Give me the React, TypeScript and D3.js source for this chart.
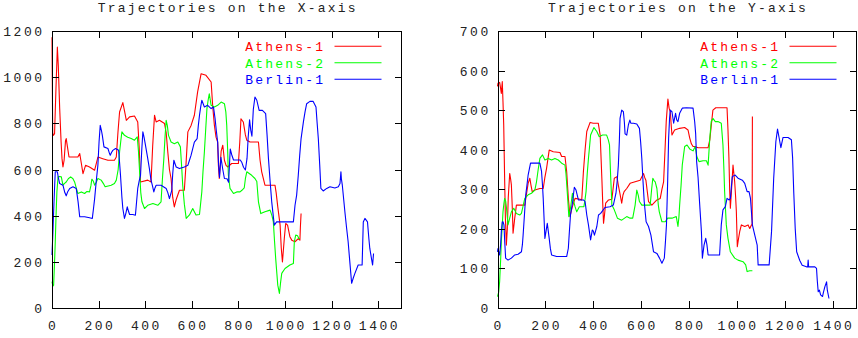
import React from "react";
import * as d3 from "d3";

// Athens-1 / Athens-2 / Berlin-1 trajectories, [time, coordinate]
const xAthens1: [number, number][] = [
  [0, 1173], [3, 760], [6, 748], [11, 755], [17, 950], [23, 1130], [27, 1050], [33, 864], [39, 720], [43, 647],
  [47, 611], [52, 640], [58, 725], [61, 734], [66, 700], [73, 654], [90, 654], [111, 654], [119, 669], [126, 626],
  [133, 582], [144, 618], [161, 611], [183, 597], [197, 654], [218, 647], [240, 640], [268, 640], [276, 654], [283, 760],
  [290, 849], [304, 890], [312, 850], [319, 813], [333, 828], [354, 832], [368, 806], [374, 700], [380, 546], [411, 554],
  [425, 546], [432, 700], [440, 835], [447, 806], [461, 813], [483, 799], [490, 760], [497, 676], [504, 600], [511, 561],
  [518, 480], [525, 438], [533, 470], [547, 510], [568, 510], [575, 620], [583, 763], [597, 791], [611, 835], [625, 936],
  [640, 1015], [661, 1008], [683, 979], [690, 870], [697, 791], [704, 740], [711, 719], [714, 620], [718, 561], [726, 680],
  [733, 705], [740, 640], [747, 618], [754, 611], [771, 626], [800, 626], [806, 720], [811, 820], [821, 806], [830, 750],
  [836, 727], [850, 719], [886, 719], [893, 640], [900, 590], [914, 532], [957, 532], [962, 500], [969, 438], [979, 359],
  [984, 260], [989, 200], [993, 250], [997, 301], [1003, 366], [1011, 359], [1021, 309], [1029, 294], [1043, 287], [1057, 301],
  [1064, 294], [1066, 350], [1069, 409],
];

const xAthens2: [number, number][] = [
  [0, 114], [4, 95], [7, 99], [11, 200], [14, 287], [18, 420], [21, 503], [26, 568], [33, 570], [40, 568],
  [47, 532], [54, 540], [61, 546], [70, 560], [80, 568], [90, 560], [97, 546], [104, 520], [111, 496], [126, 503],
  [140, 496], [150, 505], [161, 503], [167, 530], [171, 558], [177, 550], [183, 532], [190, 545], [197, 561], [211, 554],
  [220, 540], [228, 525], [254, 532], [268, 539], [276, 554], [284, 600], [290, 676], [296, 730], [300, 763], [311, 748],
  [325, 740], [340, 734], [354, 727], [366, 741], [371, 680], [376, 590], [381, 500], [386, 460], [397, 431], [411, 445],
  [433, 453], [454, 445], [468, 460], [474, 560], [480, 647], [485, 740], [490, 813], [495, 790], [500, 748], [511, 719],
  [525, 712], [540, 719], [551, 698], [556, 620], [561, 532], [568, 450], [576, 388], [590, 403], [604, 431], [618, 403],
  [633, 405], [643, 503], [648, 590], [654, 676], [660, 780], [665, 864], [670, 900], [675, 928], [683, 878], [697, 871],
  [711, 878], [726, 892], [740, 885], [746, 850], [750, 791], [754, 680], [757, 575], [764, 518], [779, 496], [793, 503],
  [807, 503], [815, 510], [825, 520], [830, 560], [836, 590], [857, 575], [871, 561], [879, 548], [886, 460], [896, 409],
  [914, 417], [936, 424], [944, 400], [950, 373], [955, 290], [960, 215], [965, 150], [969, 99], [976, 63], [981, 110],
  [986, 150], [1000, 171], [1021, 186], [1036, 193], [1040, 287], [1046, 316], [1054, 313], [1060, 300], [1064, 301],
];

const xBerlin1: [number, number][] = [
  [0, 229], [4, 330], [7, 417], [11, 520], [14, 590], [23, 590], [28, 560], [33, 539], [47, 532], [55, 500],
  [61, 486], [68, 505], [76, 518], [90, 525], [104, 518], [112, 460], [119, 395], [140, 395], [161, 391], [173, 388],
  [178, 430], [183, 474], [190, 550], [197, 619], [202, 720], [207, 791], [212, 770], [216, 748], [223, 698], [240, 691],
  [245, 675], [250, 662], [256, 675], [261, 683], [273, 691], [286, 683], [290, 630], [294, 575], [300, 480], [304, 431],
  [311, 388], [317, 410], [323, 438], [328, 420], [333, 405], [347, 405], [358, 402], [363, 460], [368, 518], [374, 550],
  [380, 575], [385, 680], [390, 763], [395, 740], [400, 712], [411, 647], [418, 604], [425, 554], [431, 530], [437, 503],
  [442, 520], [447, 532], [468, 532], [490, 518], [497, 500], [504, 474], [514, 510], [518, 580], [523, 640], [528, 625],
  [533, 611], [547, 604], [568, 611], [583, 618], [590, 640], [597, 662], [604, 690], [611, 719], [623, 734], [628, 790],
  [633, 835], [638, 870], [643, 900], [654, 871], [668, 878], [683, 864], [693, 871], [700, 820], [705, 770], [711, 719],
  [715, 620], [719, 566], [725, 653], [733, 600], [740, 561], [751, 560], [758, 545], [765, 689], [771, 665], [779, 641],
  [808, 641], [815, 630], [822, 610], [830, 598], [837, 648], [842, 740], [848, 815], [853, 770], [858, 744], [864, 860],
  [871, 914], [879, 900], [889, 856], [903, 856], [917, 842], [923, 750], [929, 647], [936, 550], [943, 460], [954, 359],
  [964, 373], [979, 373], [1014, 373], [1036, 373], [1043, 445], [1050, 489], [1057, 575], [1063, 660], [1069, 734], [1079, 806],
  [1086, 850], [1093, 885], [1107, 895], [1121, 895], [1133, 871], [1138, 800], [1143, 734], [1149, 620], [1154, 518], [1164, 507],
  [1179, 518], [1193, 525], [1214, 520], [1229, 525], [1236, 539], [1240, 590], [1242, 560], [1246, 532], [1257, 417], [1264, 350],
  [1271, 287], [1279, 190], [1286, 107], [1293, 130], [1300, 150], [1314, 186], [1331, 186], [1336, 373], [1343, 388], [1354, 373],
  [1360, 300], [1364, 258], [1371, 215], [1376, 186], [1380, 236],
];

const yAthens1: [number, number][] = [
  [0, 560], [2, 568], [9, 570], [13, 555], [16, 542], [20, 572], [23, 520], [26, 462], [30, 320], [33, 227],
  [37, 159], [41, 200], [45, 280], [51, 340], [55, 325], [58, 311], [62, 250], [65, 189], [72, 227], [79, 260],
  [100, 260], [114, 260], [128, 315], [135, 328], [140, 310], [145, 294], [156, 298], [177, 302], [191, 302], [198, 330],
  [205, 353], [216, 399], [233, 395], [261, 393], [268, 383], [282, 383], [289, 345], [296, 277], [303, 231], [308, 245],
  [313, 256], [324, 277], [345, 275], [352, 273], [359, 345], [366, 400], [373, 446], [387, 469], [400, 467], [421, 467],
  [429, 437], [436, 328], [440, 260], [443, 214], [447, 235], [452, 265], [464, 273], [478, 275], [488, 328], [499, 332],
  [505, 310], [510, 294], [519, 265], [524, 285], [529, 294], [540, 302], [554, 315], [575, 319], [596, 323], [610, 340],
  [615, 330], [620, 323], [631, 269], [645, 260], [666, 273], [680, 277], [687, 300], [694, 319], [700, 400], [705, 471],
  [712, 528], [717, 505], [722, 496], [726, 460], [729, 437], [740, 450], [761, 454], [782, 456], [796, 450], [803, 430],
  [810, 415], [817, 408], [824, 408], [838, 405], [859, 405], [880, 405], [887, 425], [893, 460], [900, 500], [912, 506],
  [935, 506], [959, 506], [963, 450], [967, 378], [970, 300], [973, 252], [977, 290], [984, 361], [991, 319], [995, 280],
  [998, 243], [1002, 155], [1007, 175], [1012, 193], [1019, 210], [1033, 206], [1047, 210], [1054, 201], [1061, 210], [1064, 210],
  [1065, 484],
];

const yAthens2: [number, number][] = [
  [0, 29], [5, 40], [9, 67], [13, 120], [16, 168], [20, 210], [23, 243], [27, 265], [30, 277], [34, 270],
  [37, 256], [41, 230], [44, 210], [51, 227], [58, 243], [68, 252], [79, 239], [93, 235], [100, 239], [107, 258],
  [114, 277], [128, 286], [142, 290], [156, 298], [163, 319], [170, 350], [177, 378], [188, 387], [198, 374], [212, 378],
  [226, 374], [240, 378], [254, 374], [268, 366], [282, 361], [286, 340], [289, 315], [294, 270], [298, 231], [305, 252],
  [313, 290], [318, 270], [324, 256], [331, 243], [342, 256], [361, 256], [366, 275], [370, 294], [375, 340], [380, 378],
  [385, 410], [389, 437], [403, 456], [415, 446], [425, 433], [439, 437], [456, 437], [463, 425], [468, 412], [473, 330],
  [478, 260], [488, 248], [501, 227], [519, 222], [540, 231], [554, 227], [565, 227], [575, 260], [582, 298], [588, 285],
  [593, 269], [603, 260], [624, 260], [638, 260], [644, 300], [649, 328], [654, 322], [659, 319], [666, 302], [672, 260],
  [676, 243], [687, 218], [701, 218], [711, 227], [729, 227], [747, 231], [754, 206], [758, 230], [761, 260], [767, 310],
  [772, 361], [782, 408], [792, 412], [803, 402], [817, 397], [826, 408], [833, 382], [842, 370], [859, 372], [873, 372],
  [880, 361], [887, 429], [893, 471], [900, 479], [910, 471], [921, 471], [935, 467], [942, 412], [946, 350], [949, 294],
  [956, 210], [963, 176], [973, 142], [991, 126], [1005, 121], [1026, 117], [1037, 109], [1043, 92], [1054, 94], [1065, 94],
];

const yBerlin1: [number, number][] = [
  [0, 142], [2, 150], [6, 140], [9, 134], [13, 160], [16, 193], [20, 218], [23, 218], [27, 210], [30, 170],
  [34, 126], [44, 121], [58, 126], [72, 134], [86, 136], [100, 142], [104, 160], [107, 184], [112, 230], [118, 286],
  [123, 310], [128, 336], [138, 366], [156, 366], [177, 366], [184, 345], [188, 310], [191, 277], [195, 220], [198, 176],
  [203, 195], [208, 214], [212, 195], [216, 176], [221, 150], [226, 134], [247, 130], [268, 130], [289, 130], [296, 151],
  [300, 190], [305, 235], [314, 269], [321, 305], [328, 298], [338, 273], [359, 273], [366, 269], [373, 235], [380, 210],
  [384, 193], [389, 172], [396, 197], [400, 195], [405, 184], [410, 195], [415, 206], [422, 235], [431, 239], [449, 254],
  [470, 256], [484, 260], [495, 290], [500, 320], [505, 361], [509, 420], [512, 479], [519, 500], [526, 496], [530, 470],
  [533, 440], [540, 437], [547, 463], [553, 475], [557, 467], [568, 467], [582, 465], [593, 454], [598, 420], [603, 378],
  [608, 320], [613, 269], [621, 218], [631, 206], [641, 184], [652, 142], [666, 138], [677, 126], [687, 113], [697, 126],
  [702, 170], [706, 210], [711, 320], [715, 429], [719, 480], [722, 500], [729, 496], [736, 467], [744, 492], [749, 475],
  [754, 471], [761, 492], [772, 505], [789, 506], [817, 505], [824, 470], [828, 440], [832, 370], [838, 330], [845, 260],
  [852, 193], [856, 126], [863, 159], [870, 176], [875, 160], [880, 134], [893, 134], [915, 134], [928, 134], [935, 210],
  [942, 248], [952, 256], [959, 277], [968, 273], [973, 277], [981, 332], [993, 336], [1005, 328], [1023, 323], [1033, 315],
  [1043, 294], [1051, 294], [1057, 277], [1065, 210], [1075, 184], [1085, 159], [1089, 109], [1103, 109], [1124, 109], [1135, 109],
  [1145, 193], [1154, 328], [1163, 420], [1170, 452], [1177, 429], [1184, 405], [1193, 431], [1214, 431], [1228, 425], [1233, 380],
  [1238, 290], [1244, 200], [1250, 142], [1263, 120], [1273, 108], [1291, 104], [1296, 104], [1298, 121], [1300, 104], [1326, 104],
  [1333, 100], [1336, 70], [1340, 41], [1345, 45], [1350, 33], [1358, 29], [1362, 40], [1368, 54], [1375, 66], [1378, 45],
  [1385, 24],
];

const seriesNames = ["Athens-1", "Athens-2", "Berlin-1"];
const seriesColors = ["#ff0000", "#00ff00", "#0000ff"];
const xTicks = [0, 200, 400, 600, 800, 1000, 1200, 1400];
const leftYTicks = [0, 200, 400, 600, 800, 1000, 1200];
const rightYTicks = [0, 100, 200, 300, 400, 500, 600, 700];

const FONT = "'Liberation Mono', 'DejaVu Sans Mono', monospace";
const LS = 2.2; // gnuplot's wide courier spacing
const TICK_LS = 2.5;
const TICK_LEN = 7;

type PanelProps = {
  title: string;
  left: number;
  right: number;
  yMax: number;
  yTicks: number[];
  labelGap: number;
  data: [number, number][][];
};

function Panel({ title, left, right, yMax, yTicks, labelGap, data }: PanelProps) {
  const top = 31;
  const bottom = 308;
  const x = d3.scaleLinear().domain([0, 1500]).range([left, right]);
  const y = d3.scaleLinear().domain([0, yMax]).range([bottom, top]);
  const line = d3.line<[number, number]>().x(d => x(d[0])).y(d => y(d[1]));

  return (
    <g>
      <text x={(left + right) / 2 + LS / 2} y={11.5} textAnchor="middle" fontFamily={FONT} fontSize={13}
        letterSpacing={LS} fill="#222">{title}</text>

      {data.map((s, i) => (
        <path key={i} d={line(s) || ""} fill="none" stroke={seriesColors[i]} strokeWidth={1.1}
          strokeLinejoin="round" />
      ))}

      {/* frame + mirrored ticks */}
      <g stroke="#000" strokeWidth={1} shapeRendering="crispEdges">
        <rect x={left + 0.5} y={top + 0.5} width={right - left - 1} height={bottom - top} fill="none" />
        {xTicks.map(t => (
          <g key={"x" + t}>
            <line x1={Math.round(x(t)) + 0.5} x2={Math.round(x(t)) + 0.5} y1={bottom} y2={bottom - TICK_LEN} />
            <line x1={Math.round(x(t)) + 0.5} x2={Math.round(x(t)) + 0.5} y1={top} y2={top + TICK_LEN} />
          </g>
        ))}
        {yTicks.map(t => (
          <g key={"y" + t}>
            <line x1={left} x2={left + TICK_LEN} y1={Math.round(y(t)) + 0.5} y2={Math.round(y(t)) + 0.5} />
            <line x1={right} x2={right - TICK_LEN} y1={Math.round(y(t)) + 0.5} y2={Math.round(y(t)) + 0.5} />
          </g>
        ))}
      </g>

      <g fontFamily={FONT} fontSize={13} letterSpacing={TICK_LS} fill="#222">
        {xTicks.map(t => (
          <text key={"xl" + t} x={x(t) + TICK_LS / 2} y={330} textAnchor="middle">{t}</text>
        ))}
        {yTicks.map(t => (
          <text key={"yl" + t} x={left - labelGap + TICK_LS} y={y(t) + 5} textAnchor="end">{t}</text>
        ))}
      </g>

      {/* key */}
      <g fontFamily={FONT} fontSize={13} letterSpacing={LS}>
        {seriesNames.map((n, i) => {
          const ly = 46.3 + i * 16.5;
          return (
            <g key={n}>
              <text x={right - 79 + LS + 0.5} y={ly + 4.7} textAnchor="end" fill={seriesColors[i]}>{n}</text>
              <line x1={right - 67} x2={right - 20} y1={ly} y2={ly} stroke={seriesColors[i]} strokeWidth={1.1} />
            </g>
          );
        })}
      </g>
    </g>
  );
}

export default function App() {
  return (
    <svg width={858} height={338} style={{ position: "absolute", left: 0, top: 0, background: "#fff" }}>
      <Panel title="Trajectories on the X-axis" left={52} right={401.5} yMax={1200} yTicks={leftYTicks}
        labelGap={10} data={[xAthens1, xAthens2, xBerlin1]} />
      <Panel title="Trajectories on the Y-axis" left={497.5} right={856.5} yMax={700} yTicks={rightYTicks}
        labelGap={9.3} data={[yAthens1, yAthens2, yBerlin1]} />
    </svg>
  );
}
